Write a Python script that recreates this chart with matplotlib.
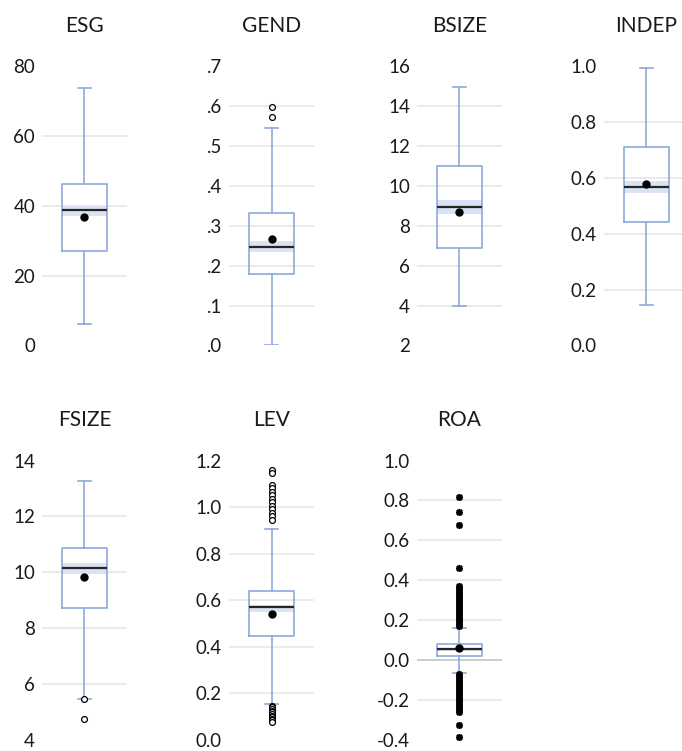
import matplotlib
matplotlib.use("Agg")
import matplotlib.pyplot as plt
from matplotlib.ticker import FixedLocator

plt.rcParams['font.family'] = ['Lato', 'DejaVu Sans']

# ---- summary statistics per variable ----
names = ["ESG", "GEND", "BSIZE", "INDEP", "FSIZE", "LEV", "ROA"]

whislo = [6.2, 0.0, 4.0, 0.145, 5.45, 0.153, -0.065]
q1 = [27.1, 0.180, 6.9, 0.442, 8.73, 0.445, 0.020]
median = [38.7, 0.246, 8.95, 0.567, 10.14, 0.568, 0.052]
q3 = [46.3, 0.332, 11.0, 0.711, 10.88, 0.640, 0.079]
whishi = [73.7, 0.545, 14.96, 0.994, 13.26, 0.904, 0.162]
mean = [36.8, 0.266, 8.7, 0.580, 9.82, 0.541, 0.059]
ci_lo = [37.0, 0.235, 8.6, 0.546, 9.95, 0.550, 0.045]
ci_hi = [40.1, 0.261, 9.3, 0.590, 10.33, 0.578, 0.058]

# ---- outliers ----
out_esg = []
out_gend = [0.598, 0.572]
out_bsize = []
out_indep = []
out_fsize = [5.45, 4.75]
out_lev = [1.159, 1.145, 1.095, 1.08, 1.065, 1.05, 1.035, 1.02, 1.005,
           0.99, 0.975, 0.96, 0.944,
           0.145, 0.138, 0.131, 0.124, 0.117, 0.110, 0.103, 0.096,
           0.089, 0.082, 0.075]
out_roa = [0.817, 0.742, 0.677, 0.461, 0.372,
           0.358, 0.35, 0.34, 0.33, 0.32, 0.31, 0.30, 0.29, 0.28, 0.27,
           0.26, 0.25, 0.24, 0.23, 0.22, 0.21, 0.20, 0.19, 0.18, 0.17,
           -0.07, -0.08, -0.09, -0.10, -0.11, -0.12, -0.13, -0.14, -0.15,
           -0.16, -0.17, -0.18, -0.19, -0.20, -0.21, -0.22, -0.23, -0.24,
           -0.25, -0.26, -0.328, -0.387]
outliers = [out_esg, out_gend, out_bsize, out_indep, out_fsize, out_lev, out_roa]

# ---- axis ticks and labels ----
ticks = [
    [0, 20, 40, 60, 80],
    [0.0, 0.1, 0.2, 0.3, 0.4, 0.5, 0.6, 0.7],
    [2, 4, 6, 8, 10, 12, 14, 16],
    [0.0, 0.2, 0.4, 0.6, 0.8, 1.0],
    [4, 6, 8, 10, 12, 14],
    [0.0, 0.2, 0.4, 0.6, 0.8, 1.0, 1.2],
    [-0.4, -0.2, 0.0, 0.2, 0.4, 0.6, 0.8, 1.0],
]
tick_labels = [
    ["0", "20", "40", "60", "80"],
    [".0", ".1", ".2", ".3", ".4", ".5", ".6", ".7"],
    ["2", "4", "6", "8", "10", "12", "14", "16"],
    ["0.0", "0.2", "0.4", "0.6", "0.8", "1.0"],
    ["4", "6", "8", "10", "12", "14"],
    ["0.0", "0.2", "0.4", "0.6", "0.8", "1.0", "1.2"],
    ["-0.4", "-0.2", "0.0", "0.2", "0.4", "0.6", "0.8", "1.0"],
]
star_fliers = [False, False, False, False, False, False, True]

BOX_BLUE = "#8EA9DB"
BAND_BLUE = "#DAE3F3"
GRID = "#E8E8E8"
ZERO = "#C8C8C8"

fig = plt.figure(figsize=(6.82, 7.51), dpi=100)

col_left = [0.0616, 0.3358, 0.6114, 0.8856]
row_bottom = [0.540, 0.0153]
ax_w, ax_h = 0.1246, 0.3715

for i, name in enumerate(names):
    r, c = divmod(i, 4)
    ax = fig.add_axes([col_left[c], row_bottom[r], ax_w, ax_h])

    stats = [dict(med=median[i], q1=q1[i], q3=q3[i], whislo=whislo[i],
                  whishi=whishi[i], mean=mean[i], fliers=outliers[i],
                  label=name)]

    if star_fliers[i]:
        flier = dict(marker=(8, 2, 0), markersize=5, markeredgecolor="black",
                     markeredgewidth=1.2, markerfacecolor="black", linestyle="none")
    else:
        flier = dict(marker="o", markersize=4.2, markeredgecolor="black",
                     markeredgewidth=0.9, markerfacecolor="white", linestyle="none")

    bw = 0.52
    ax.fill_between([1 - bw / 2, 1 + bw / 2], ci_lo[i], ci_hi[i],
                    color=BAND_BLUE, lw=0, zorder=2)
    ax.bxp(stats, positions=[1], widths=bw, showmeans=True, capwidths=0.16,
           boxprops=dict(color=BOX_BLUE, linewidth=1.2),
           whiskerprops=dict(color=BOX_BLUE, linewidth=1.2),
           capprops=dict(color=BOX_BLUE, linewidth=1.2),
           medianprops=dict(color="#262626", linewidth=1.6),
           meanprops=dict(marker="o", markersize=5, markerfacecolor="black",
                          markeredgecolor="black"),
           flierprops=flier, zorder=3)

    t = ticks[i]
    # interior gridlines only; the outermost ticks sit on the frame edges
    for v in t[1:-1]:
        ax.axhline(v, color=ZERO if v == 0 and t[0] < 0 else GRID,
                   linewidth=1.3, zorder=1)

    ax.set_xlim(0.5, 1.5)
    ax.set_ylim(t[0], t[-1])
    ax.yaxis.set_major_locator(FixedLocator(t))
    ax.set_yticklabels(tick_labels[i])
    ax.set_xticks([])
    ax.tick_params(axis="y", length=0, pad=5, labelsize=13.5, labelcolor="#1a1a1a")
    for s in ax.spines.values():
        s.set_visible(False)
    ax.set_title(name, fontsize=15, color="#1a1a1a", pad=25)

fig.savefig("out.png", dpi=100)
